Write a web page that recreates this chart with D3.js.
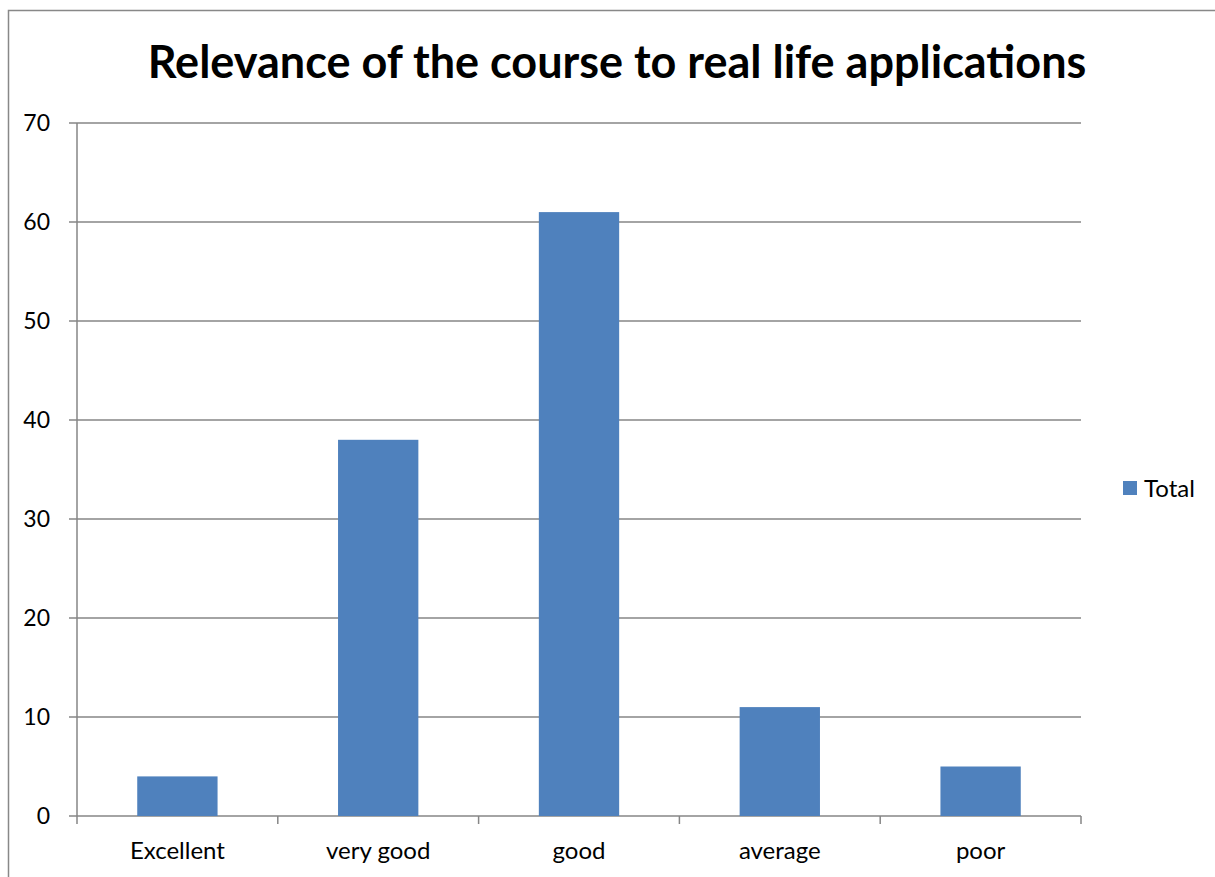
<!DOCTYPE html>
<html>
<head>
<meta charset="utf-8">
<script src="https://cdn.jsdelivr.net/npm/d3@7"></script>
<style>
body { margin: 0; background: white; }
text { font-family: Lato, "Open Sans", sans-serif; }
</style>
</head>
<body>
<div id="chart-area"></div>
<script>
const categories = ["Excellent", "very good", "good", "average", "poor"];
const totals = [4, 38, 61, 11, 5];
const yTicks = [0, 10, 20, 30, 40, 50, 60, 70];
const seriesName = "Total";

const W = 1215, H = 877;
const margin = {left: 77, right: 134, top: 123, bottom: 61};
const width = W - margin.left - margin.right;
const height = H - margin.top - margin.bottom;

const svg = d3.select("#chart-area")
    .append("svg")
    .attr("width", W)
    .attr("height", H);

// outer frame (left + top)
svg.append("path")
    .attr("d", "M8.5," + H + "V10.5H" + W)
    .attr("fill", "none")
    .attr("stroke", "#888")
    .attr("stroke-width", 1.5);

svg.append("text")
    .attr("x", 617)
    .attr("y", 78)
    .attr("text-anchor", "middle")
    .attr("font-size", "45px")
    .attr("font-weight", "bold")
    .attr("fill", "black")
    .text("Relevance of the course to real life applications");

const g = svg.append("g")
    .attr("transform", "translate(" + margin.left + "," + margin.top + ")");

const x = d3.scaleBand()
    .domain(categories)
    .range([0, width])
    .paddingInner(0.6)
    .paddingOuter(0.3);

const xEdges = d3.scaleBand()
    .domain(categories)
    .range([0, width]);

const y = d3.scaleLinear()
    .domain([0, 70])
    .range([height, 0]);

// gridlines
g.selectAll(".grid")
    .data(yTicks)
    .enter()
    .append("line")
        .attr("class", "grid")
        .attr("x1", -8)
        .attr("x2", width)
        .attr("y1", d => y(d))
        .attr("y2", d => y(d))
        .attr("stroke", "#868686")
        .attr("stroke-width", 1.5);

g.selectAll(".ylab")
    .data(yTicks)
    .enter()
    .append("text")
        .attr("class", "ylab")
        .attr("x", -27)
        .attr("y", d => y(d) + 8)
        .attr("text-anchor", "end")
        .attr("font-size", "23px")
        .attr("fill", "black")
        .text(d => d);

g.selectAll(".bar")
    .data(totals)
    .enter()
    .append("rect")
        .attr("class", "bar")
        .attr("x", (d, i) => x(categories[i]))
        .attr("y", d => y(d))
        .attr("width", x.bandwidth())
        .attr("height", d => height - y(d))
        .attr("fill", "#4F81BD");

// y axis line
g.append("line")
    .attr("x1", 0).attr("x2", 0)
    .attr("y1", 0).attr("y2", height)
    .attr("stroke", "#868686")
    .attr("stroke-width", 1.5);

// x category ticks
const edges = categories.map(c => xEdges(c)).concat([width]);
g.selectAll(".xtick")
    .data(edges)
    .enter()
    .append("line")
        .attr("class", "xtick")
        .attr("x1", d => d).attr("x2", d => d)
        .attr("y1", height).attr("y2", height + 8)
        .attr("stroke", "#868686")
        .attr("stroke-width", 1.5);

g.selectAll(".xlab")
    .data(categories)
    .enter()
    .append("text")
        .attr("class", "xlab")
        .attr("x", d => x(d) + x.bandwidth() / 2)
        .attr("y", height + 43)
        .attr("text-anchor", "middle")
        .attr("font-size", "24px")
        .attr("fill", "black")
        .text(d => d);

// legend
const legend = svg.append("g")
    .attr("transform", "translate(1123, 481)");

legend.append("rect")
    .attr("width", 14)
    .attr("height", 14)
    .attr("fill", "#4F81BD");

legend.append("text")
    .attr("x", 21)
    .attr("y", 16)
    .attr("font-size", "24px")
    .attr("fill", "black")
    .text(seriesName);
</script>
</body>
</html>
